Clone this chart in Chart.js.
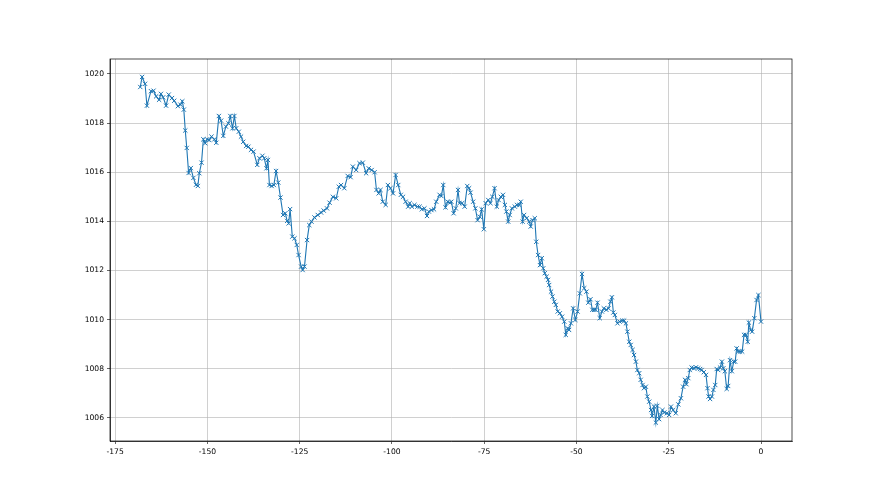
<!DOCTYPE html>
<html><head><meta charset="utf-8">
<script src="https://cdn.jsdelivr.net/npm/chart.js@4/dist/chart.umd.min.js"></script>
<style>html,body{margin:0;padding:0;background:#fff;}#wrap{width:880px;height:495px;position:relative;}</style>
</head><body><div id="wrap"><canvas id="c" width="880" height="495"></canvas></div>
<script>
const hours = [-168.2,-167.7,-166.9,-166.4,-165.3,-164.6,-163.9,-163.1,-162.6,-162.0,-161.2,-160.5,-159.6,-159.0,-158.0,-157.3,-156.8,-156.4,-156.0,-155.6,-155.1,-154.5,-153.8,-153.1,
-152.6,-152.2,-151.6,-151.1,-150.6,-150.1,-149.5,-148.9,-148.1,-147.6,-146.9,-146.3,-145.7,-145.0,-144.3,-143.8,-143.2,-142.7,-142.2,-141.5,-140.9,-140.3,-139.5,-138.9,-138.2,-137.5,
-136.5,-135.9,-135.1,-134.6,-134.0,-133.6,-133.2,-132.6,-132.0,-131.4,-130.8,-130.2,-129.5,-128.9,-128.4,-128.0,-127.6,-127.0,-126.4,-125.8,-125.3,-124.6,-124.2,-123.7,-123.0,-122.4,-121.8,-121.0,
-120.1,-119.2,-118.5,-117.6,-116.9,-116.0,-115.1,-114.4,-113.8,-112.9,-112.0,-111.2,-110.6,-109.7,-108.8,-107.9,-107.0,-106.3,-105.5,-104.7,-104.2,-103.6,-103.1,-102.5,-101.7,-101.1,-100.4,-99.7,-99.0,-98.3,-97.6,-97.0,-96.3,-95.6,-95.2,-94.6,-93.9,-93.1,-92.5,-91.9,-91.2,-90.5,-90.0,-89.3,-88.6,-88.0,
-87.1,-86.6,-86.1,-85.5,-84.9,-84.3,-83.9,-83.3,-82.7,-82.1,-81.7,-81.0,-80.3,-79.6,-79.1,-78.7,-78.0,-77.4,-76.8,-76.2,-75.7,-75.1,-74.6,-73.9,-73.3,-72.8,-72.2,
-71.6,-71.1,-70.5,-69.9,-69.4,-69.0,-68.5,-68.1,-67.5,-66.7,-66.1,-65.5,-65.1,-64.6,-64.2,-63.5,-62.8,-62.4,-61.9,-61.3,-60.9,-60.4,-59.9,-59.4,-59.0,-58.6,-58.1,-57.7,-57.4,-56.9,-56.5,-56.0,-55.6,
-55.1,-54.5,-53.9,-53.3,-52.9,-52.4,-52.0,-51.5,-50.9,-50.3,-49.7,-49.1,-48.5,-47.9,-47.3,-46.8,-46.2,-45.7,-45.2,-44.8,-44.3,-43.7,-43.1,-42.6,-41.9,-41.3,-40.8,-40.4,-40.0,-39.6,
-38.9,-38.3,-37.6,-37.1,-36.6,-36.2,-35.7,-35.3,-34.8,-34.4,-33.9,-33.5,-33.0,-32.6,-32.1,-31.7,-31.2,-30.8,-30.3,-29.8,-29.5,-29.0,-28.5,-28.1,-27.6,-27.2,-26.7,-26.2,-25.5,-24.9,-24.4,-23.8,-23.1,
-22.4,-21.7,-21.1,-20.6,-20.2,-19.7,-19.3,-18.8,-18.2,-17.6,-17.0,-16.5,-16.1,-15.5,-14.9,-14.5,-14.2,-13.8,-13.3,-12.9,-12.4,-12.0,-11.6,-11.1,-10.6,-10.2,
-9.8,-9.3,-8.9,-8.4,-7.9,-7.4,-7.0,-6.6,-6.2,-5.7,-5.1,-4.6,-4.1,-3.6,-3.3,-2.8,-2.4,-1.8,-1.2,-0.7,0];
const pressure = [1019.47,1019.88,1019.6,1018.71,1019.3,1019.32,1019.09,1018.95,1019.19,1019.05,1018.71,1019.16,1019.02,1018.91,1018.69,1018.75,1018.89,1018.55,1017.7,1016.99,1015.97,1016.17,1015.77,1015.49,
1015.44,1015.96,1016.39,1017.34,1017.18,1017.34,1017.31,1017.45,1017.34,1017.2,1018.29,1018.1,1017.48,1017.86,1017.99,1018.29,1017.79,1018.29,1017.79,1017.65,1017.45,1017.24,1017.07,1017.04,1016.91,1016.84,
1016.3,1016.57,1016.67,1016.57,1016.16,1016.5,1015.48,1015.44,1015.48,1016.05,1015.58,1014.97,1014.26,1014.33,1014.02,1013.92,1014.5,1013.38,1013.31,1013.04,1012.63,1012.16,1012.02,1012.16,1013.24,1013.85,1013.99,1014.16,
1014.26,1014.36,1014.44,1014.53,1014.76,1015.0,1014.94,1015.41,1015.48,1015.35,1015.85,1015.8,1016.23,1016.09,1016.37,1016.39,1015.96,1016.16,1016.09,1016.0,1015.28,1015.14,1015.28,1014.8,1014.67,1015.48,1015.35,1015.14,1015.89,1015.48,1015.08,1015.0,1014.8,1014.6,1014.74,1014.6,1014.67,1014.6,1014.6,1014.49,1014.53,1014.22,1014.4,1014.46,1014.49,1014.8,
1015.08,1015.03,1015.48,1014.57,1014.8,1014.76,1014.8,1014.33,1014.53,1015.28,1014.74,1014.74,1014.6,1015.44,1015.35,1015.17,1014.8,1014.53,1014.05,1014.19,1014.49,1013.68,1014.74,1014.87,1014.74,1015.0,1015.35,
1014.6,1014.87,1015.0,1015.08,1014.67,1014.4,1013.99,1014.26,1014.53,1014.6,1014.67,1014.67,1014.8,1013.99,1014.26,1014.13,1013.99,1013.79,1014.05,1014.13,1013.17,1012.63,1012.22,1012.5,1012.09,1011.89,1011.75,1011.62,1011.41,1011.14,1010.94,1010.73,1010.6,
1010.33,1010.26,1010.12,1009.92,1009.38,1009.65,1009.58,1009.85,1010.46,1009.99,1010.33,1011.07,1011.86,1011.28,1011.14,1010.69,1010.83,1010.4,1010.4,1010.4,1010.69,1010.06,1010.33,1010.46,1010.4,1010.46,1010.73,1010.91,1010.29,1010.19,
1009.85,1009.92,1009.96,1009.96,1009.85,1009.51,1009.1,1008.97,1008.77,1008.56,1008.29,1007.95,1007.82,1007.55,1007.34,1007.21,1007.27,1006.87,1006.66,1006.32,1006.08,1006.46,1005.81,1006.49,1005.95,1006.12,1006.32,1006.22,1006.19,1006.12,1006.46,1006.32,1006.19,
1006.55,1006.8,1007.27,1007.55,1007.37,1007.62,1007.95,1008.05,1008.02,1008.06,1008.02,1007.99,1007.95,1007.86,1007.75,1007.21,1006.87,1006.77,1006.87,1007.14,1007.34,1007.99,1007.95,1008.05,1008.29,1008.02,
1007.9,1007.18,1007.3,1008.35,1007.9,1008.29,1008.29,1008.83,1008.7,1008.7,1008.7,1009.38,1009.38,1009.1,1009.88,1009.58,1009.51,1010.06,1010.8,1011.0,1009.92];
const xTickValues = [-175,-150,-125,-100,-75,-50,-25,0];
const yTickValues = [1006,1008,1010,1012,1014,1016,1018,1020];

const points = hours.map((h, i) => ({x: h, y: pressure[i]}));
const font = {family: "'DejaVu Sans', sans-serif", size: 7.6};

const framePlugin = {
  id: 'frame',
  afterDraw(chart) {
    const a = chart.chartArea, ctx = chart.ctx;
    ctx.save();
    ctx.strokeStyle = '#000';
    ctx.lineWidth = 0.7;
    ctx.strokeRect(a.left, a.top, a.right - a.left, a.bottom - a.top);
    ctx.restore();
  }
};
const bgPlugin = {
  id: 'bg',
  beforeDraw(chart) {
    const ctx = chart.ctx;
    ctx.save(); ctx.fillStyle = '#fff'; ctx.fillRect(0, 0, chart.width, chart.height); ctx.restore();
  }
};

new Chart(document.getElementById('c'), {
  type: 'scatter',
  data: { datasets: [{
    data: points,
    showLine: true,
    borderColor: '#1f77b4',
    borderWidth: 1.1,
    pointStyle: 'crossRot',
    pointRadius: 3,
    pointBorderWidth: 1,
    pointBorderColor: '#1f77b4',
    pointBackgroundColor: '#1f77b4',
    tension: 0
  }]},
  options: {
    responsive: false,
    animation: false,
    events: [],
    layout: { padding: { left: 0, top: 59, right: 88, bottom: 0 } },
    plugins: { legend: { display: false }, tooltip: { enabled: false } },
    scales: {
      x: {
        type: 'linear', min: -176.4, max: 8.4,
        afterBuildTicks: s => { s.ticks = xTickValues.map(v => ({value: v})); },
        afterFit: s => { s.height = 54; },
        grid: { color: '#b0b0b0', lineWidth: 0.6, tickColor: '#000', tickLength: 3, drawTicks: true },
        border: { color: '#000', width: 0.7 },
        ticks: { color: '#000', font: font, padding: 3, maxRotation: 0, callback: v => String(v) }
      },
      y: {
        type: 'linear', min: 1005.06, max: 1020.61,
        afterBuildTicks: s => { s.ticks = yTickValues.map(v => ({value: v})); },
        afterFit: s => { s.width = 110; },
        grid: { color: '#b0b0b0', lineWidth: 0.6, tickColor: '#000', tickLength: 3, drawTicks: true },
        border: { color: '#000', width: 0.7 },
        ticks: { color: '#000', font: font, padding: 3, callback: v => String(v) }
      }
    }
  },
  plugins: [bgPlugin, framePlugin]
});
</script></body></html>
